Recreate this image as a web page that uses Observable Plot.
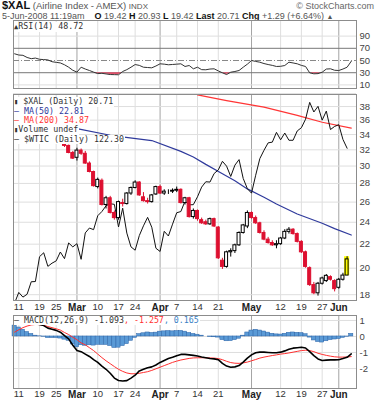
<!DOCTYPE html>
<html><head><meta charset="utf-8">
<script src="https://cdn.jsdelivr.net/npm/d3@7"></script>
<script src="https://cdn.jsdelivr.net/npm/@observablehq/plot@0.6"></script>
<style>
html,body{margin:0;padding:0;background:#fff;}
#root{position:relative;width:382px;height:400px;overflow:hidden;font-family:"Liberation Sans",Arial,sans-serif;color:#333;}
.a{position:absolute;white-space:nowrap;}
.mono{font-family:"DejaVu Sans Mono",monospace;font-size:8.3px;line-height:8.9px;}
.lg{background:#fff;display:inline-block;padding-right:1px;}
svg{position:absolute;left:0;}
</style></head><body><div id="root"></div>
<script>
// ---- data ----
const days = ("02-08 02-11 02-12 02-13 02-14 02-15 02-19 02-20 02-21 02-22 02-25 02-26 02-27 02-28 02-29 " +
  "03-03 03-04 03-05 03-06 03-07 03-10 03-11 03-12 03-13 03-14 03-17 03-18 03-19 03-20 03-24 03-25 03-26 03-27 03-28 03-31 " +
  "04-01 04-02 04-03 04-04 04-07 04-08 04-09 04-10 04-11 04-14 04-15 04-16 04-17 04-18 04-21 04-22 04-23 04-24 04-25 04-28 04-29 04-30 " +
  "05-01 05-02 05-05 05-06 05-07 05-08 05-09 05-12 05-13 05-14 05-15 05-16 05-19 05-20 05-21 05-22 05-23 05-27 05-28 05-29 05-30 " +
  "06-02 06-03 06-04 06-05").split(" ").map(s => "2008-" + s);

const tickDays = ["2008-02-11","2008-02-19","2008-02-25","2008-03-03","2008-03-10","2008-03-17","2008-03-24","2008-04-01",
  "2008-04-07","2008-04-14","2008-04-21","2008-05-01","2008-05-12","2008-05-19","2008-05-27","2008-06-02"];
const tickLabels = ["11","19","25","Mar","10","17","24","Apr","7","14","21","May","12","19","27","Jun"];

const rsiTicks = [10, 30, 50, 70, 90];
const priceTicks = [18, 20, 22, 24, 26, 28, 30, 32, 34, 36, 38];
const priceGrid = [18, 20, 22, 24, 26, 28, 30, 32, 34, 36, 38, 40];
const macdTicks = [1, 0, -1, -2];
const macdLegend = [-1.093, -1.257, 0.165];

// $XAL daily candles, from 2008-02-27 (earlier bars sit behind the legend)
const xalFirst = "2008-02-27";
const xalOpen  = [32.9,32.5,31.6,31.0,31.9,31.5,30.3,29.3,27.6,28.3,25.7,26.4,24.9,24.4,25.9,25.8,26.9,27.5,28.1,26.5,26.1,26.0,26.8,27.6,26.9,27.1,27.1,27.2,27.3,25.9,26.4,24.5,25.1,24.2,24.0,23.8,24.3,23.5,20.6,20.1,21.3,21.4,21.9,23.0,23.6,24.9,24.4,23.9,23.0,22.4,22.1,21.9,22.0,22.5,23.1,23.3,22.9,22.2,21.3,20.0,18.7,18.1,18.8,19.0,19.3,19.0,18.5,19.1,19.42];
const xalHigh  = [33.1,32.6,31.8,32.2,32.1,31.8,30.5,29.4,28.6,28.5,26.6,26.6,25.1,26.1,26.3,27.0,27.6,28.3,28.2,27.0,26.4,26.8,27.7,27.8,27.3,27.3,27.4,27.6,27.4,26.5,26.5,25.3,25.2,24.4,24.2,24.4,24.4,23.6,20.8,21.4,21.6,22.0,23.1,23.8,25.1,25.0,24.6,24.0,23.2,22.6,22.3,22.3,22.6,23.3,23.5,23.4,23.0,22.3,21.4,20.1,18.9,18.9,19.3,19.5,19.4,19.1,19.2,19.6,20.93];
const xalLow   = [32.3,31.5,30.8,30.6,31.3,30.2,29.2,27.6,27.4,25.6,25.3,24.8,24.2,24.2,25.5,25.7,26.7,27.4,26.6,26.0,25.8,25.9,26.7,26.8,26.7,26.8,26.9,27.0,25.8,25.7,24.4,24.3,24.1,23.8,23.7,23.7,23.5,20.7,19.9,20.0,20.9,21.2,21.8,22.9,23.4,24.3,23.8,22.9,22.3,22.0,21.8,21.6,21.9,22.4,22.9,22.8,22.1,21.2,20.0,18.6,18.0,17.9,18.7,18.9,19.0,18.2,18.4,19.0,19.42];
const xalClose = [32.5,31.6,30.9,31.9,31.5,30.3,29.3,27.7,28.4,25.7,26.4,24.9,24.4,26.0,25.8,26.9,27.5,28.1,26.7,26.1,26.0,26.7,27.6,26.9,27.1,27.1,27.2,27.3,25.9,26.4,24.5,25.1,24.3,23.9,23.8,24.3,23.6,20.8,20.1,21.3,21.4,21.9,23.0,23.7,24.9,24.4,23.9,23.0,22.4,22.1,21.9,22.0,22.5,23.1,23.3,22.9,22.2,21.3,20.1,18.7,18.1,18.8,19.2,19.4,19.1,18.4,19.1,19.42,20.71];

const ma50 = [["2008-03-03",34.8],["2008-03-13",33.9],["2008-03-28",33.2],["2008-04-08",31.8],["2008-04-11",31.1],
  ["2008-04-16",30.2],["2008-04-22",29.1],["2008-04-25",28.3],["2008-04-30",27.4],["2008-05-06",26.5],["2008-05-09",25.8],
  ["2008-05-16",24.8],["2008-05-27",23.9],["2008-05-30",23.4],["2008-06-05",22.81]];
const ma200 = [["2008-04-14",39.8],["2008-04-23",38.9],["2008-05-06",37.9],["2008-05-16",36.7],["2008-05-27",35.7],["2008-06-05",34.87]];

// $WTIC daily close (overlay, own scale)
const wtic = [91.77,93.59,92.78,93.27,95.46,95.50,100.01,100.74,98.23,98.81,99.23,100.88,99.64,102.59,101.84,
  102.45,99.52,104.52,105.47,105.15,107.90,108.75,109.92,110.33,110.21,105.68,109.42,104.48,101.84,101.22,104.00,105.90,107.58,105.62,101.58,
  100.98,104.83,103.92,106.23,108.50,108.75,110.87,110.11,110.14,111.76,113.79,114.93,114.86,116.69,117.48,119.37,118.30,116.06,118.52,119.75,115.63,113.46,
  112.52,116.32,119.97,121.84,123.53,123.69,125.96,124.23,125.80,124.12,124.12,126.29,127.05,129.07,133.17,130.81,132.19,128.85,131.03,126.62,127.35,
  127.76,124.31,122.30,null];

const rsi = [61,59,58.5,55,53,54,52,51.5,51,48,47,46,43,39,34,31,39,36,33.6,31,28.5,29,28,27,26.8,26.6,32,35,39,43.4,42,39,38.5,38,41,
  44.6,44,43,43.5,44,44.6,40.2,41.8,36.4,39,35,34.8,36,36.4,33,29.8,27,30.8,32,33.6,39,44,
  50,48.5,47.2,45,43.4,42,40.2,40.5,41.8,47.2,46,44.6,42,40.2,29.8,28.2,28.5,30.8,36,36.4,34,33.6,36,39,48.72];

const macd = [0.95,0.98,0.97,0.93,0.88,0.80,0.75,0.68,0.52,0.45,0.38,0.27,0.05,-0.15,-0.55,-0.875,-0.95,-1.10,-1.25,-1.45,
  -1.62,-1.85,-2.05,-2.30,-2.60,-2.75,-2.78,-2.76,-2.60,-2.42,-2.15,-2.05,-1.95,-1.90,-1.78,-1.62,-1.50,-1.38,-1.30,-1.20,
  -1.12,-1.12,-1.15,-1.18,-1.22,-1.28,-1.33,-1.38,-1.40,-1.45,-1.68,-1.85,-1.92,-1.90,-1.82,-1.60,-1.35,-1.15,-1.02,-0.98,
  -0.98,-1.00,-1.02,-1.02,-0.98,-0.90,-0.80,-0.73,-0.70,-0.67,-0.72,-0.95,-1.20,-1.40,-1.50,-1.48,-1.46,-1.46,-1.45,-1.38,-1.30,-1.093];
const signal = [0.27,0.42,0.55,0.65,0.72,0.75,0.74,0.70,0.62,0.55,0.48,0.40,0.25,0.12,-0.05,-0.20,-0.40,-0.52,-0.70,-0.88,
  -1.10,-1.32,-1.52,-1.70,-1.88,-2.05,-2.18,-2.28,-2.33,-2.33,-2.30,-2.25,-2.20,-2.12,-2.02,-1.92,-1.82,-1.72,-1.62,-1.54,
  -1.47,-1.42,-1.37,-1.34,-1.33,-1.33,-1.33,-1.34,-1.35,-1.38,-1.45,-1.55,-1.63,-1.67,-1.68,-1.65,-1.60,-1.52,-1.44,-1.35,
  -1.29,-1.24,-1.19,-1.15,-1.10,-1.07,-1.03,-0.98,-0.93,-0.88,-0.86,-0.88,-0.95,-1.05,-1.12,-1.18,-1.23,-1.27,-1.29,-1.29,-1.28,-1.257];

// ---- layout / style config ----
const W = 382, ML = 13, MR = 26;
const X = {type: "linear", domain: [-0.27, 82.26], axis: null};
const overlayCfg = {oilRef: 122.3, axisRef: 32.2, exponent: 2.14};
const C = {grid: "#dedede", month: "#a4a4a4", frame: "#8c8c8c", red: "#dd1030", blue: "#2f3a9c", ma200: "#ff3535",
  hist: "#5a9ad6", histStroke: "#2d64a8"};
const font = "Liberation Sans, Arial, sans-serif";

// ---- derived tables ----
const dayIndex = new Map(days.map((d, i) => [d, i]));
const ticks = tickDays.map((d, k) => ({i: dayIndex.get(d), t: tickLabels[k], m: /[A-Za-z]/.test(tickLabels[k])}));
const x0 = dayIndex.get(xalFirst);
const candles = xalOpen.map((o, k) => {
  const i = x0 + k, c = xalClose[k], prev = k > 0 ? xalClose[k - 1] : o;
  const col = c < prev ? C.red : "#000";
  const fill = c > o ? "#fff" : col;
  return {i, o, h: xalHigh[k], l: xalLow[k], c, col, fill};
});
const last = candles[candles.length - 1];
const overlay = v => overlayCfg.axisRef * Math.pow(v / overlayCfg.oilRef, overlayCfg.exponent);
const wticData = wtic.map((v, i) => ({i, v})).filter(d => d.v != null);
const rsiData = rsi.map((v, i) => ({i, v}));
const macdData = macd.map((v, i) => ({i, v, s: signal[i], h: v - signal[i]}));
const pairs = arr => arr.map(([d, v]) => ({i: dayIndex.get(d), v}));

function grid() {
  return [
    Plot.ruleX(ticks.filter(d => !d.m), {x: "i", stroke: C.grid}),
    Plot.ruleX(ticks.filter(d => d.m), {x: "i", stroke: C.month})
  ];
}
function xLabels(dy) {
  return [
    Plot.text(ticks.filter(d => !d.m), {x: "i", text: "t", frameAnchor: "bottom", lineAnchor: "top", dy, fontSize: 9.5, fill: "#333"}),
    Plot.text(ticks.filter(d => d.m), {x: "i", text: "t", frameAnchor: "bottom", lineAnchor: "top", dy, fontSize: 10, fontWeight: "bold", fill: "#222"})
  ];
}
function yLabels(vals) {
  return Plot.text(vals, {y: d => d, text: d => String(d), frameAnchor: "right", textAnchor: "start", dx: 3, fontSize: 9.5, fill: "#444"});
}
const baseStyle = {fontFamily: font, fontSize: "9px", color: "#333", background: "transparent", overflow: "visible"};

// ---- RSI panel ----
const rsiPlot = Plot.plot({
  width: W, height: 71, marginLeft: ML, marginRight: MR, marginTop: 1, marginBottom: 2,
  x: X, y: {domain: [4.1, 115.6], axis: null}, color: {type: "identity"}, style: baseStyle,
  marks: [
    ...grid(),
    Plot.ruleY([10, 90], {stroke: C.grid}),
    Plot.ruleY([30, 70], {stroke: "#777"}),
    Plot.ruleY([50], {stroke: "#888", strokeDasharray: "6,2,1,2"}),
    Plot.areaY(rsiData, {x: "i", y1: 30, y2: d => Math.min(d.v, 30), fill: "#e0506a"}),
    Plot.line(rsiData, {x: "i", y: "v", stroke: "#333", strokeWidth: 1}),
    yLabels(rsiTicks),
    Plot.frame({stroke: C.frame})
  ]
});

// ---- price panel ----
const pricePlot = Plot.plot({
  width: W, height: 220, marginLeft: ML, marginRight: MR, marginTop: 0, marginBottom: 14,
  x: X, y: {type: "log", domain: [17.59, 39.86], axis: null}, color: {type: "identity"}, style: baseStyle,
  marks: [
    ...grid(),
    Plot.ruleY(priceGrid, {stroke: C.grid}),
    Plot.line(pairs(ma200), {x: "i", y: "v", stroke: C.ma200, strokeWidth: 1.2, clip: true}),
    Plot.line(pairs(ma50), {x: "i", y: "v", stroke: C.blue, strokeWidth: 1.2, clip: true}),
    Plot.line(wticData, {x: "i", y: d => overlay(d.v), stroke: "#111", strokeWidth: 1, clip: true}),
    Plot.rect([last], {x1: d => d.i - 0.62, x2: d => d.i + 0.62, y1: "l", y2: "h", fill: "#ffff00"}),
    Plot.ruleX(candles, {x: "i", y1: "l", y2: "h", stroke: "col", strokeWidth: 1}),
    Plot.rect(candles, {x1: d => d.i - 0.36, x2: d => d.i + 0.36, y1: "o", y2: "c",
      fill: d => d === last ? "#ffff00" : d.fill, stroke: d => d === last ? "#000" : d.col, strokeWidth: 1}),
    yLabels(priceTicks),
    ...xLabels(3),
    Plot.frame({stroke: C.frame})
  ]
});

// ---- MACD panel ----
const macdPlot = Plot.plot({
  width: W, height: 85, marginLeft: ML, marginRight: MR, marginTop: 0, marginBottom: 12,
  x: X, y: {domain: [-3.25, 1.31], axis: null}, color: {type: "identity"}, style: baseStyle,
  marks: [
    ...grid(),
    Plot.ruleY(macdTicks, {stroke: C.grid}),
    Plot.rect(macdData, {x1: d => d.i - 0.5, x2: d => d.i + 0.5, y1: 0, y2: "h", fill: C.hist, stroke: C.histStroke, strokeWidth: 0.5}),
    Plot.line(macdData, {x: "i", y: "s", stroke: "#ff3030", strokeWidth: 1}),
    Plot.line(macdData, {x: "i", y: "v", stroke: "#000", strokeWidth: 1.6}),
    yLabels(macdTicks),
    ...xLabels(2),
    Plot.frame({stroke: C.frame})
  ]
});

// ---- assemble ----
const root = document.getElementById("root");
const f2 = v => v.toFixed(2), f3 = v => v.toFixed(3);
const chg = last.c - xalClose[xalClose.length - 2];
root.innerHTML = `
<div class="a" style="left:2px;top:0px;font-size:9.5px;color:#555;line-height:11px"><b style="font-size:11px;color:#111">$XAL</b> (Airline Index - AMEX) <span style="font-size:8px">INDX</span></div>
<div class="a" style="right:8px;top:1px;font-size:9px;color:#666;line-height:11px">© StockCharts.com</div>
<div class="a" style="left:2px;top:11px;font-size:9px;color:#555;line-height:10px">5-Jun-2008 11:19am &nbsp;&nbsp;&nbsp;<b style="color:#111">O</b> ${f2(last.o)} <b style="color:#111">H</b> ${f2(last.h)} <b style="color:#111">L</b> ${f2(last.l)} <b style="color:#111">Last</b> ${f2(last.c)} <b style="color:#111">Chg</b> +${f2(chg)} (+${f2(chg / (last.c - chg) * 100)}%) <span style="font-size:7px">▲</span></div>`;
rsiPlot.style.top = "19px"; root.appendChild(rsiPlot);
pricePlot.style.top = "94px"; root.appendChild(pricePlot);
macdPlot.style.top = "315px"; root.appendChild(macdPlot);
const lg = document.createElement("div");
lg.innerHTML = `
<div class="a mono" style="left:14px;top:22px"><span class="lg"><span style="font-size:7px">▲</span>RSI(14) ${f2(rsi[rsi.length - 1])}</span></div>
<div class="a mono" style="left:14px;top:97px">
 <div><span class="lg"><span style="font-size:7px">▮</span> $XAL (Daily) ${f2(last.c)}</span></div>
 <div><span class="lg" style="color:${C.blue}">— MA(50) ${f2(ma50[ma50.length - 1][1])}</span></div>
 <div><span class="lg" style="color:${C.ma200}">— MA(200) ${f2(ma200[ma200.length - 1][1])}</span></div>
 <div><span class="lg"><span style="font-size:7px">▮</span>Volume undef</span></div>
 <div><span class="lg">— $WTIC (Daily) ${f2(wtic[wtic.length - 2])}</span></div>
</div>
<div class="a mono" style="left:14px;top:316px"><span class="lg">— MACD(12,26,9) ${f3(macdLegend[0])}<span style="color:#ff3030">, ${f3(macdLegend[1])}</span><span style="color:#3a7fc4">, ${f3(macdLegend[2])}</span></span></div>`;
root.appendChild(lg);
</script></body></html>
